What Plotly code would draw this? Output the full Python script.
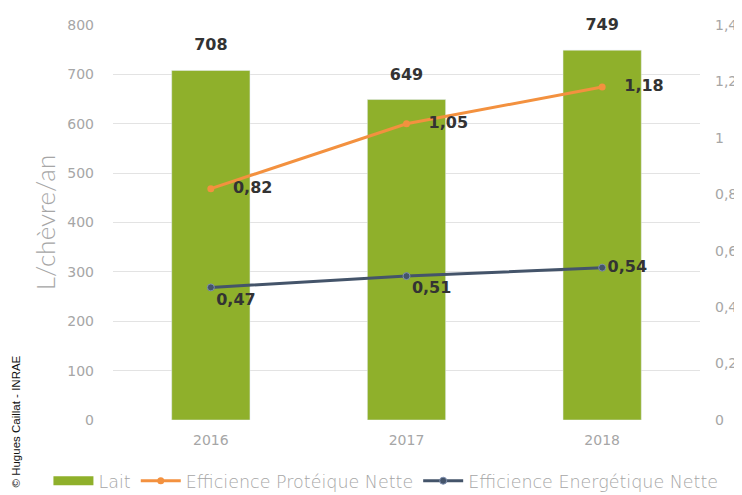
import plotly.graph_objects as go

# data
years = ["2016", "2017", "2018"]
lait = [708, 649, 749]
eff_proteique = [0.82, 1.05, 1.18]
eff_energetique = [0.47, 0.51, 0.54]
right_ticks = [0, 0.2, 0.4, 0.6, 0.8, 1, 1.2, 1.4]

GREEN = "#8fb02b"
ORANGE = "#f3913f"
NAVY = "#44546a"
GREY = "#a6a6a6"
FONT = "DejaVu Sans, sans-serif"
LABEL_FONT = dict(family="DejaVu Sans, sans-serif", size=16, color="#333333", weight="bold")
PAD = "\u00a0\u00a0\u00a0"


def fr(v):
    return f"{v:g}".replace(".", ",")


fig = go.Figure()
fig.add_trace(go.Bar(
    x=years, y=lait, name="Lait",
    marker_color=GREEN, showlegend=False,
))
# legend swatch for the bars: a wide flat bar like the original
fig.add_trace(go.Scatter(
    x=[None], y=[None], name="Lait", mode="lines",
    line=dict(color=GREEN, width=9),
))
# bar value labels, lifted a bit above the bar tops
fig.add_trace(go.Scatter(
    x=years, y=lait, mode="markers+text", showlegend=False,
    marker=dict(size=24, color="rgba(0,0,0,0)"),
    text=[str(v) for v in lait], textposition="top center",
    textfont=LABEL_FONT, hoverinfo="skip", cliponaxis=False,
))
fig.add_trace(go.Scatter(
    x=years, y=eff_proteique, name="Efficience Protéique Nette",
    mode="lines+markers+text", yaxis="y2",
    line=dict(color=ORANGE, width=3),
    marker=dict(color=ORANGE, size=7),
    text=[fr(v) for v in eff_proteique],
    texttemplate=PAD + "%{text}",
    textposition="middle right",
    textfont=LABEL_FONT,
    cliponaxis=False,
))
fig.add_trace(go.Scatter(
    x=years, y=eff_energetique, name="Efficience Energétique Nette",
    mode="lines+markers+text", yaxis="y2",
    line=dict(color=NAVY, width=3),
    marker=dict(color=NAVY, size=7, line=dict(color="#8090b0", width=1)),
    text=[fr(v) for v in eff_energetique],
    textposition=["bottom right", "bottom right", "middle right"],
    textfont=LABEL_FONT,
    cliponaxis=False,
))

# the page has an 8px body margin; the figure is made a bit taller than the
# window so the legend can sit low without plotly pushing the bottom margin
fig.update_layout(
    width=734, height=505,
    margin=dict(l=105, r=42, t=17, b=93),
    paper_bgcolor="white", plot_bgcolor="white",
    font=dict(family=FONT, color=GREY),
    bargap=0.6,
    showlegend=True,
    legend=dict(
        orientation="h", x=-0.11, y=-0.154, xanchor="left", yanchor="middle",
        font=dict(size=17.5, color=GREY, weight=300), itemwidth=40,
        traceorder="normal", tracegroupgap=0,
    ),
    xaxis=dict(
        showgrid=False, showline=False, ticks="", automargin=False,
        tickfont=dict(size=14, color=GREY), ticklabelstandoff=10,
    ),
    yaxis=dict(
        range=[0, 800], dtick=100, automargin=False,
        showgrid=True, gridcolor="#e3e3e3", gridwidth=1,
        zeroline=False, showline=False,
        tickfont=dict(size=14, color=GREY), ticklabelstandoff=18,
        title=dict(text="L/chèvre/an", standoff=4,
                   font=dict(family="Lato, sans-serif", size=26, color=GREY, weight=300)),
    ),
    yaxis2=dict(
        overlaying="y", side="right", range=[0, 1.4], automargin=False,
        tickvals=right_ticks, ticktext=[fr(v) for v in right_ticks],
        showgrid=False, zeroline=False, showline=False,
        tickfont=dict(size=14, color=GREY), ticklabelstandoff=14,
    ),
)

fig.add_annotation(
    text="© Hugues Caillat - INRAE", textangle=-90,
    xref="paper", yref="paper", x=-0.166, y=-0.005,
    xanchor="center", yanchor="middle", showarrow=False,
    font=dict(family="Liberation Sans, sans-serif", size=11.5, color="#111111"),
)

fig.write_html("out.html")
